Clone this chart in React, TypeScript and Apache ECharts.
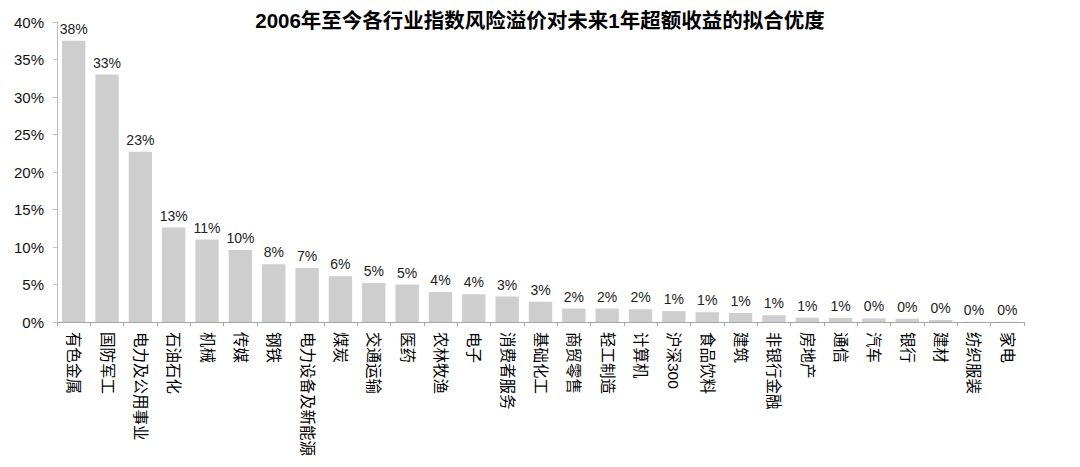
import React, { useEffect, useRef } from "react";
import * as echarts from "echarts";

const TITLE = "2006年至今各行业指数风险溢价对未来1年超额收益的拟合优度";
const CATEGORIES = [
  "有色金属", "国防军工", "电力及公用事业", "石油石化", "机械", "传媒", "钢铁",
  "电力设备及新能源", "煤炭", "交通运输", "医药", "农林牧渔", "电子", "消费者服务",
  "基础化工", "商贸零售", "轻工制造", "计算机", "沪深300", "食品饮料", "建筑",
  "非银行金融", "房地产", "通信", "汽车", "银行", "建材", "纺织服装", "家电",
];
const VALUES = [
  0.375, 0.33, 0.227, 0.126, 0.11, 0.096, 0.077, 0.072, 0.061, 0.052, 0.05,
  0.04, 0.037, 0.034, 0.027, 0.018, 0.018, 0.017, 0.0145, 0.013, 0.012, 0.009,
  0.0057, 0.0055, 0.0048, 0.0042, 0.0027, 0.0005, 0.0002,
];
const Y_MIN = 0;
const Y_MAX = 0.4;
const Y_STEP = 0.05;

const FONT = '"Liberation Sans", Arial, "Noto Sans CJK SC", sans-serif';

export default function App() {
  const ref = useRef<HTMLDivElement>(null);
  useEffect(() => {
    document.body.style.margin = "0";
    const chart = echarts.init(ref.current!, null, { renderer: "svg" });
    chart.setOption({
      animation: false,
      backgroundColor: "#ffffff",
      title: {
        text: TITLE,
        left: 535,
        textAlign: "center",
        top: 5,
        textStyle: { fontFamily: FONT, fontSize: 20.5, fontWeight: "bold", color: "#000" },
      },
      grid: { left: 57, right: 56, top: 22, bottom: 145, containLabel: false },
      xAxis: {
        type: "category",
        data: CATEGORIES,
        axisLine: { lineStyle: { color: "#a6a6a6", width: 1 } },
        axisTick: { show: true, alignWithLabel: false, length: 4, lineStyle: { color: "#a6a6a6" } },
        axisLabel: {
          rotate: -90,
          interval: 0,
          margin: 10,
          fontFamily: FONT,
          fontSize: 15.5,
          color: "#000",
        },
      },
      yAxis: {
        type: "value",
        min: Y_MIN,
        max: Y_MAX,
        interval: Y_STEP,
        axisLine: { show: true, lineStyle: { color: "#bfbfbf" } },
        axisTick: { show: true, length: 4, lineStyle: { color: "#bfbfbf" } },
        splitLine: { show: false },
        axisLabel: {
          margin: 13,
          fontFamily: FONT,
          fontSize: 15,
          color: "#111",
          formatter: (v: number) => Math.round(v * 100) + "%",
        },
      },
      series: [
        {
          type: "bar",
          data: VALUES,
          barWidth: "70%",
          itemStyle: { color: "#cfcece" },
          label: {
            show: true,
            position: "top",
            distance: 5,
            fontFamily: FONT,
            fontSize: 14,
            color: "#222",
            formatter: (p: any) => Math.round(p.value * 100) + "%",
          },
        },
      ],
    });
    return () => chart.dispose();
  }, []);
  return <div ref={ref} style={{ width: 1080, height: 467 }} />;
}
